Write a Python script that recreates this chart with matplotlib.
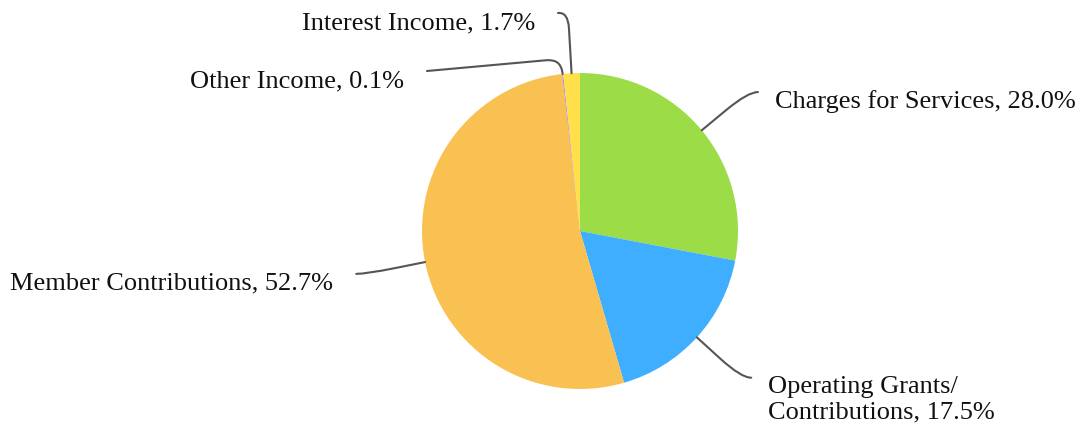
import numpy as np
import matplotlib
matplotlib.use("Agg")
import matplotlib.pyplot as plt
from matplotlib.path import Path
from matplotlib.patches import PathPatch

# ---- data ----
categories = ["Charges for Services", "Operating Grants/\nContributions",
              "Member Contributions", "Other Income", "Interest Income"]
shares = [28.0, 17.5, 52.7, 0.1, 1.7]
colors = ["#9cdc47", "#40aeff", "#f9c152", "#a77cf0", "#ffe04a"]

# ---- layout (pixel space) ----
W, H = 1082, 431
cx, cy, R = 580, 232, 158
L1, L2 = 60, 10
corner = [28, 28, 28, 14, 16]

fig = plt.figure(figsize=(W / 100, H / 100), dpi=100)
ax = fig.add_axes([0, 0, 1, 1])
wedges, _ = ax.pie(shares, colors=colors, startangle=-90, counterclock=True,
                   center=(cx, cy), radius=R, normalize=True,
                   wedgeprops=dict(linewidth=0))
ax.set_xlim(0, W)
ax.set_ylim(H, 0)
ax.set_aspect("equal")
ax.axis("off")

def rounded_path(p0, p1, p2, rad=12):
    p0, p1, p2 = map(np.asarray, (p0, p1, p2))
    d0 = p0 - p1; n0 = np.linalg.norm(d0)
    d2 = p2 - p1; n2 = np.linalg.norm(d2)
    a = p1 + d0 / n0 * min(rad, n0 * 0.8)
    b = p1 + d2 / n2 * min(rad, n2)
    verts = [p0, a, p1, b, p2]
    codes = [Path.MOVETO, Path.LINETO, Path.CURVE3, Path.CURVE3, Path.LINETO]
    return Path(verts, codes)

total = sum(shares)
cum = 0.0
font = dict(family="Liberation Serif", size=19, color="#111111")
# per-label overrides for the crowded small slices (elbow, end)
overrides = {
    3: ((560, 60), (427, 72)),
    4: ((568, 13), (558, 14)),
}
for i, (cat, v) in enumerate(zip(categories, shares)):
    frac = v / total
    th = np.deg2rad(-90 + 360 * (cum + frac / 2))
    cum += frac
    d = np.array([np.cos(th), np.sin(th)])
    edge = np.array([cx, cy]) + R * d
    if i in overrides:
        elbow, end = map(np.array, overrides[i])
        side = -1
    else:
        elbow = edge + L1 * d
        side = 1 if d[0] >= 0 else -1
        end = elbow + np.array([side * L2, 0])
    ax.add_patch(PathPatch(rounded_path(edge, elbow, end, corner[i]), fill=False,
                           edgecolor="#555555", lw=1.5, capstyle="round"))
    label = f"{cat}, {v:.1f}%"
    tx = end[0] + (17 if side > 0 else -23)
    ty = end[1] + 15
    if "\n" in cat:
        ax.text(tx, end[1] - 3, label, ha="left" if side > 0 else "right",
                va="top", linespacing=1.22, **font)
    else:
        ax.text(tx, ty, label, ha="left" if side > 0 else "right",
                va="baseline", **font)

fig.savefig("out.png", dpi=100)
